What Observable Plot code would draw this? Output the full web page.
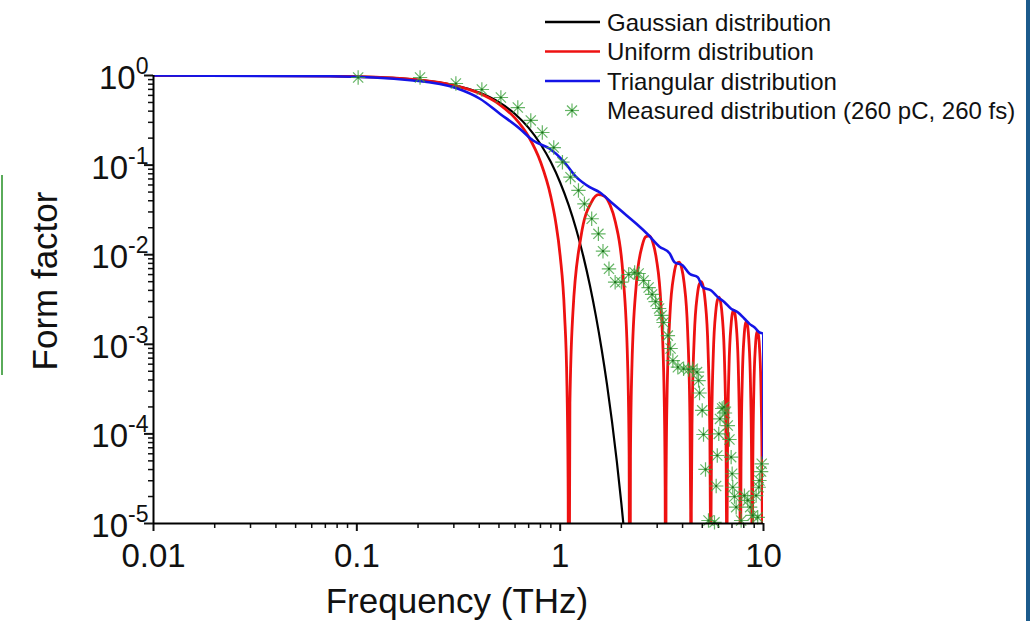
<!DOCTYPE html>
<html>
<head>
<meta charset="utf-8">
<script src="https://cdn.jsdelivr.net/npm/d3@7"></script>
<script src="https://cdn.jsdelivr.net/npm/@observablehq/plot@0.6"></script>
<style>
html, body { margin: 0; padding: 0; background: #fff; }
#wrap { position: relative; width: 1031px; height: 621px; overflow: hidden; background: #fff;
        font-family: "Liberation Sans", Arial, sans-serif; }
#chart { position: absolute; left: 0; top: 0; }
#overlay { position: absolute; left: 0; top: 0; pointer-events: none; }
#rb { position: absolute; right: 1px; top: 0; width: 4px; height: 621px; background: #1c5b8c; }
#gl { position: absolute; left: 1px; top: 175px; width: 2px; height: 200px; background: #5aab5a; }
</style>
</head>
<body>
<div id="wrap">
  <div id="chart"></div>
  <div id="gl"></div>
  <div id="rb"></div>
</div>
<script>
// ---- tick labels ----
const xMajor = [0.01, 0.1, 1, 10];
const xMajorLabels = ["0.01", "0.1", "1", "10"];
const yMajor = [1, 0.1, 0.01, 0.001, 0.0001, 0.00001];
const yExponents = ["0", "-1", "-2", "-3", "-4", "-5"];

// ---- legend ----
const seriesNames = ["Gaussian distribution", "Uniform distribution", "Triangular distribution", "Measured distribution (260 pC, 260 fs)"];
const seriesColors = ["#000000", "#ee1111", "#1414e6", "#3fa33f"];

// ---- Gaussian distribution ----
const gaussF = [0.01, 0.05, 0.1, 0.2, 0.3, 0.4, 0.5, 0.6, 0.7, 0.8, 0.9, 1.0, 1.1, 1.2, 1.3, 1.4, 1.5, 1.6, 1.7, 1.8, 1.9, 2.0, 2.1];
const gaussV = [1, 0.993, 0.973, 0.896, 0.781, 0.644, 0.503, 0.372, 0.260, 0.172, 0.108, 0.0639, 0.0359, 0.0191, 0.00958, 0.00456, 0.00205, 0.000876, 0.000354, 0.000135, 4.89e-5, 1.67e-5, 5.4e-6];

// ---- Uniform distribution ----
const unifF = [
  0.01, 0.05, 0.1, 0.2, 0.3, 0.4, 0.5, 0.6, 0.7, 0.8, 0.9, 0.95, 1.0, 1.05, 1.08, 1.095, 1.1,
  1.1165, 1.155, 1.265, 1.43, 1.54, 1.65, 1.76, 1.87, 2.035, 2.145, 2.1835, 2.2,
  2.2165, 2.255, 2.365, 2.53, 2.64, 2.75, 2.86, 2.97, 3.135, 3.245, 3.2835, 3.3,
  3.3165, 3.355, 3.465, 3.63, 3.74, 3.85, 3.96, 4.07, 4.235, 4.345, 4.3835, 4.4,
  4.4165, 4.455, 4.565, 4.73, 4.84, 4.95, 5.06, 5.17, 5.335, 5.445, 5.4835, 5.5,
  5.5165, 5.555, 5.665, 5.83, 5.94, 6.05, 6.16, 6.27, 6.435, 6.545, 6.5835, 6.6,
  6.6165, 6.655, 6.765, 6.93, 7.04, 7.15, 7.26, 7.37, 7.535, 7.645, 7.6835, 7.7,
  7.7165, 7.755, 7.865, 8.03, 8.14, 8.25, 8.36, 8.47, 8.635, 8.745, 8.7835, 8.8,
  8.8165, 8.855, 8.965, 9.13, 9.24, 9.35, 9.46, 9.57, 9.735, 9.845, 9.8835, 9.9
];
const unifV = [
  1, 0.993, 0.973, 0.896, 0.778, 0.634, 0.480, 0.334, 0.207, 0.109, 0.0442, 0.0234, 0.00973, 0.00225, 0.000343, 2.08e-5, 1e-8,
  2.18e-4, 2.25e-3, 0.0158, 0.0392, 0.0468, 0.0450, 0.0358, 0.0230, 0.0061, 6.52e-4, 5.71e-5, 1e-8,
  5.54e-5, 5.9e-4, 0.00452, 0.01254, 0.01591, 0.01621, 0.01356, 0.00910, 0.00257, 2.85e-4, 2.52e-5, 1e-8,
  2.47e-5, 2.67e-4, 0.00210, 0.00609, 0.00793, 0.00827, 0.00707, 0.00484, 0.00141, 1.59e-4, 1.42e-5, 1e-8,
  1.40e-5, 1.51e-4, 0.00121, 0.00359, 0.00473, 0.00500, 0.00433, 0.00300, 8.88e-4, 1.01e-4, 9.05e-6, 1e-8,
  8.94e-6, 9.72e-5, 7.87e-4, 0.00236, 0.00314, 0.00335, 0.00292, 0.00204, 6.10e-4, 7.0e-5, 6.27e-6, 1e-8,
  6.21e-6, 6.77e-5, 5.52e-4, 0.00167, 0.00224, 0.00240, 0.00210, 0.00148, 4.45e-4, 5.13e-5, 4.61e-6, 1e-8,
  4.57e-6, 4.99e-5, 4.09e-4, 0.00124, 0.00167, 0.00180, 0.00159, 0.00112, 3.39e-4, 3.92e-5, 3.53e-6, 1e-8,
  3.5e-6, 3.83e-5, 3.14e-4, 9.63e-4, 0.00130, 0.00140, 0.00124, 8.76e-4, 2.67e-4, 3.1e-5, 2.78e-6, 1e-8
];

// ---- Triangular distribution ----
const triF = [0.01, 0.074, 0.189, 0.31, 0.403, 0.505, 0.633, 0.736, 0.889, 1.033, 1.202, 1.397, 1.564, 1.818, 2.075, 2.37, 2.70, 3.08, 3.45, 3.65, 4.01, 4.33, 4.75, 5.03, 5.53, 5.96, 6.43, 6.93, 7.47, 8.06, 8.53, 9.02, 9.55, 9.98, 10];
const triV = [1.0, 0.98, 0.88, 0.72, 0.55, 0.375, 0.255, 0.188, 0.152, 0.1125, 0.0733, 0.0567, 0.0498, 0.037, 0.0286, 0.0221, 0.0168, 0.0123, 0.0104, 0.00825, 0.00758, 0.00612, 0.00561, 0.00434, 0.00398, 0.00336, 0.00295, 0.00249, 0.00228, 0.00193, 0.00169, 0.00155, 0.00136, 0.00131, 5.3e-5];

// ---- Measured distribution (260 pC, 260 fs) ----
const measF = [0.1015, 0.2046, 0.307, 0.412, 0.511, 0.619, 0.717, 0.817, 0.930, 1.026, 1.124, 1.23, 1.316, 1.429, 1.542, 1.624, 1.738, 1.864, 2.0, 2.172, 2.324, 2.432, 2.573, 2.723, 2.833, 2.947, 3.066, 3.154, 3.226, 3.386, 3.491, 3.583, 3.791, 4.045, 4.28, 4.493, 4.712, 4.792, 4.846, 4.996, 5.07, 5.186, 5.364, 5.741, 5.852, 5.925, 6.026, 6.109, 6.262, 6.39, 6.463, 6.672, 6.801, 6.934, 7.013, 7.06, 7.198, 7.337, 7.764, 8.06, 8.365, 8.594, 8.851, 9.198, 9.365, 9.473, 9.548, 9.732, 9.8];
const measV = [0.95, 0.95, 0.814, 0.698, 0.568, 0.439, 0.315, 0.231, 0.157, 0.1077, 0.0733, 0.0521, 0.037, 0.0252, 0.0171, 0.01094, 0.00696, 0.00493, 0.00493, 0.00601, 0.00633, 0.00617, 0.00515, 0.0043, 0.0036, 0.003, 0.00251, 0.0021, 0.00175, 0.00125, 0.000898, 0.000659, 0.000555, 0.000533, 0.000523, 0.000533, 0.000489, 0.000394, 0.000286, 0.000183, 9.85e-5, 4.01e-5, 1.08e-5, 1.03e-5, 2.62e-5, 5.74e-5, 1.0e-4, 1.47e-4, 1.92e-4, 1.99e-4, 1.71e-4, 1.24e-4, 8.66e-5, 5.5e-5, 3.59e-5, 2.54e-5, 2.0e-5, 1.52e-5, 1.08e-5, 2.05e-5, 1.81e-5, 1.52e-5, 1.23e-5, 2.05e-5, 1.17e-5, 2.54e-5, 3.02e-5, 3.8e-5, 4.64e-5];

// ---- build tables ----
const toRows = (F, V) => F.map((f, i) => ({f, v: V[i]}));
const gauss = toRows(gaussF, gaussV);
const unif = toRows(unifF, unifV);
const tri = toRows(triF, triV);
const meas = toRows(measF, measV);

const xMinor = [];
for (const d of xMajor.slice(0, -1)) for (let k = 2; k <= 9; k++) xMinor.push(k * d);
const yMinor = [];
for (const d of yMajor.slice(1)) for (let k = 2; k <= 9; k++) yMinor.push(k * d);

const FONT = "Liberation Sans, Arial, sans-serif";
const W = 1031, H = 621;
const ML = 153, MR = 268, MT = 75, MB = 98;

const plot = Plot.plot({
  width: W, height: H,
  marginLeft: ML, marginRight: MR, marginTop: MT, marginBottom: MB,
  style: {fontFamily: FONT, background: "transparent", overflow: "visible", color: "#111"},
  x: {type: "log", domain: [0.01, 10], label: null},
  y: {type: "log", domain: [1e-5, 1], label: null},
  marks: [
    Plot.axisX({ticks: xMinor, tickSize: 5, text: null, label: null, strokeWidth: 1.5}),
    Plot.axisX({ticks: xMajor, tickSize: 8, tickPadding: 12, strokeWidth: 2, fontSize: 33, label: null,
                tickFormat: d => xMajorLabels[xMajor.indexOf(d)]}),
    Plot.axisY({ticks: yMinor, tickSize: 5, text: null, label: null, strokeWidth: 1.5}),
    Plot.axisY({ticks: yMajor, tickSize: 9, text: null, label: null, strokeWidth: 2}),
    Plot.axisY({ticks: yMajor, tickSize: 0, tickPadding: 5, fontSize: 33, dy: 3, label: null,
                tickFormat: d => "10^" + yExponents[yMajor.indexOf(d)]}),
    Plot.line(gauss, {x: "f", y: "v", stroke: seriesColors[0], strokeWidth: 2.2, curve: "monotone-x", clip: true}),
    Plot.line(unif, {x: "f", y: "v", stroke: seriesColors[1], strokeWidth: 2.8, curve: "monotone-x", clip: true}),
    Plot.line(tri, {x: "f", y: "v", stroke: seriesColors[2], strokeWidth: 2.6, curve: "monotone-x", clip: true}),
    Plot.dot(meas, {x: "f", y: "v", symbol: "plus", r: 4.7, stroke: seriesColors[3], strokeWidth: 1.2, strokeOpacity: 0.8}),
    Plot.dot(meas, {x: "f", y: "v", symbol: "times", r: 4.7, stroke: seriesColors[3], strokeWidth: 1.2, strokeOpacity: 0.8}),
    Plot.dot(meas, {x: "f", y: "v", r: 1.1, fill: "#1d6e1d"}),
    Plot.ruleX([0.01], {stroke: "#000", strokeWidth: 2}),
    Plot.ruleY([1e-5], {stroke: "#000", strokeWidth: 2})
  ]
});

// superscript exponents on y tick labels
d3.select(plot).selectAll('g[aria-label="y-axis tick label"] text').each(function () {
  const s = this.textContent;
  const parts = s.split("^");
  if (parts.length !== 2) return;
  this.textContent = "";
  const t = d3.select(this);
  t.append("tspan").text(parts[0]);
  t.append("tspan").attr("dy", "-15px").attr("font-size", "23px").text(parts[1]);
});

document.getElementById("chart").appendChild(plot);

// overlay: axis titles and legend
const ov = d3.select("#wrap").append("svg").attr("id", "overlay")
  .attr("width", W).attr("height", H)
  .style("font-family", FONT);

ov.append("text").attr("x", 457).attr("y", 613).attr("text-anchor", "middle")
  .attr("font-size", 35).attr("fill", "#111").text("Frequency (THz)");
ov.append("text").attr("transform", "translate(57,281) rotate(-90)").attr("text-anchor", "middle")
  .attr("font-size", 35).attr("fill", "#111").text("Form factor");

const legY = [22, 51.5, 81, 110.5];
seriesNames.forEach((name, i) => {
  const y = legY[i];
  if (i < 3) {
    ov.append("line").attr("x1", 545).attr("x2", 600).attr("y1", y).attr("y2", y)
      .attr("stroke", seriesColors[i]).attr("stroke-width", 2.5);
  } else {
    const g = ov.append("g").attr("transform", `translate(572,${y})`)
      .attr("stroke", seriesColors[3]).attr("stroke-width", 1.2).attr("stroke-opacity", 0.8);
    const a = 7, b = 5;
    g.append("line").attr("x1", -a).attr("x2", a).attr("y1", 0).attr("y2", 0);
    g.append("line").attr("x1", 0).attr("x2", 0).attr("y1", -a).attr("y2", a);
    g.append("line").attr("x1", -b).attr("x2", b).attr("y1", -b).attr("y2", b);
    g.append("line").attr("x1", -b).attr("x2", b).attr("y1", b).attr("y2", -b);
    g.append("circle").attr("r", 1.1).attr("fill", "#1d6e1d").attr("stroke", "none");
  }
  ov.append("text").attr("x", 607).attr("y", y + 8.5).attr("font-size", 24).attr("fill", "#111").text(name);
});
</script>
</body>
</html>
